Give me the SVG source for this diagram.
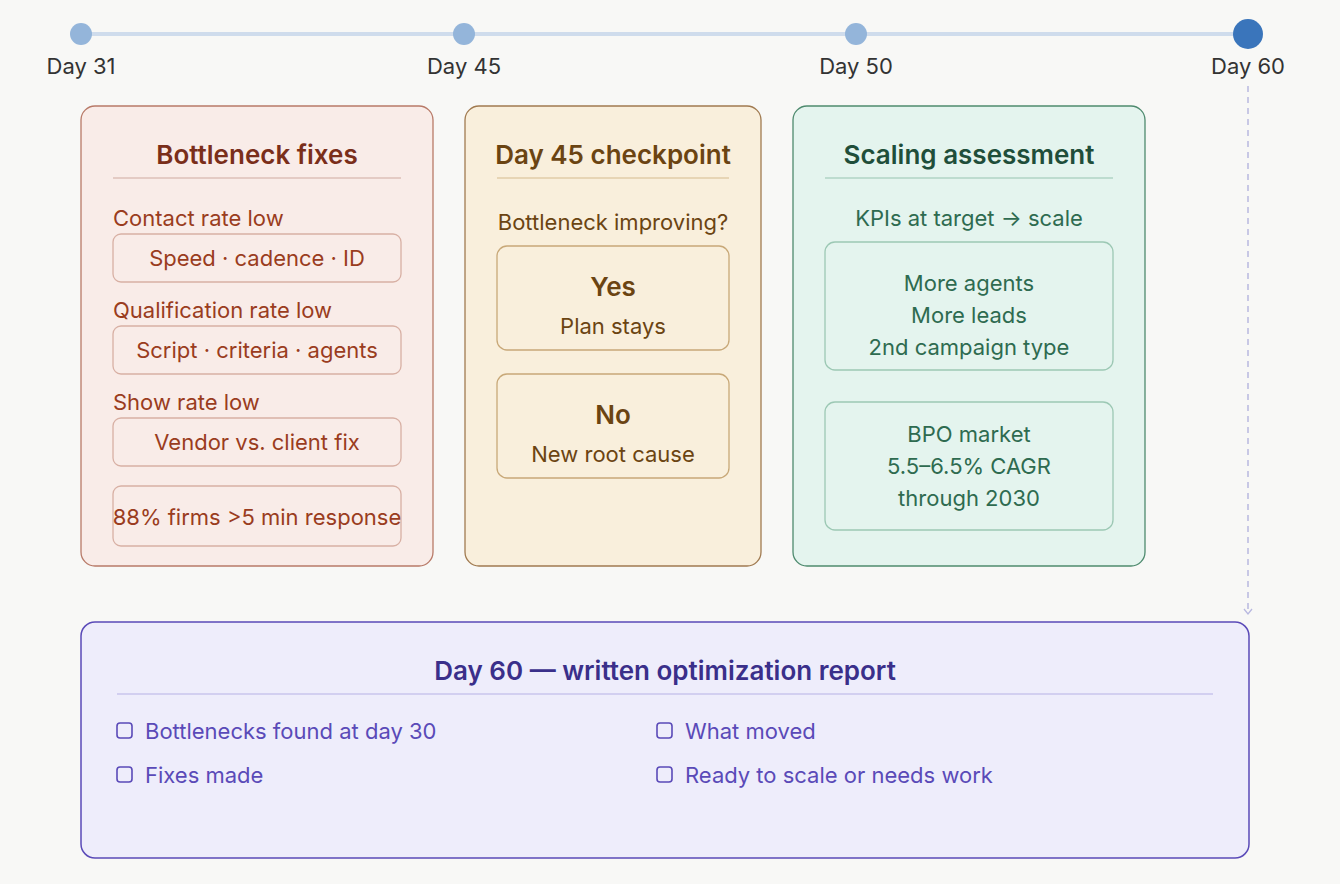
<svg xmlns="http://www.w3.org/2000/svg" width="1340" height="884" viewBox="0 0 1340 884">
<style>
text{font-family:Inter,"Noto Sans","Liberation Sans",sans-serif;font-size:22px}
.c{text-anchor:middle}
.t{font-size:26px;font-weight:600}
.lab{fill:#333}
.r{fill:#9a3c20}.y{fill:#6b4412}.g{fill:#2e6b50}.p{fill:#5a4ab8}
.rb{fill:none;stroke:#d8b0a4;stroke-width:1.3}
.yb{fill:none;stroke:#c8a878;stroke-width:1.3}
.gb{fill:none;stroke:#9cc8b4;stroke-width:1.3}
.cb{fill:none;stroke:#5a4ab8;stroke-width:1.6}
</style>
<defs><marker id="ah" viewBox="0 0 10 10" refX="8" refY="5" markerWidth="10" markerHeight="10" orient="auto" markerUnits="userSpaceOnUse"><path d="M3 1 L8 5 L3 9" fill="none" stroke="#b8b8e0" stroke-width="1.3"/></marker></defs>
<rect width="1340" height="884" fill="#f8f8f6"/>
<g id="timeline">
<line x1="81" y1="34" x2="1248" y2="34" stroke="#cfdcec" stroke-width="4"/>
<circle cx="81" cy="34" r="11" fill="#94b5da"/>
<circle cx="464" cy="34" r="11" fill="#94b5da"/>
<circle cx="856" cy="34" r="11" fill="#94b5da"/>
<circle cx="1248" cy="34" r="15" fill="#3a75bb"/>
<text class="c lab" x="81" y="74">Day 31</text>
<text class="c lab" x="464" y="74">Day 45</text>
<text class="c lab" x="856" y="74">Day 50</text>
<text class="c lab" x="1248" y="74">Day 60</text>
</g>
<g id="connectors">
<line x1="1248" y1="86" x2="1248" y2="614" stroke="#b8b8e0" stroke-width="1.5" stroke-dasharray="6 5" marker-end="url(#ah)"/>
</g>
<g id="bottleneck">
<rect x="81" y="106" width="352" height="460" rx="14" fill="#f9ece8" stroke="#b87a68" stroke-width="1.3"/>
<text class="c t" x="257" y="164" fill="#7a2e1a">Bottleneck fixes</text>
<line x1="113" y1="178" x2="401" y2="178" stroke="#dcc0b8" stroke-width="1.3"/>
<text class="r" x="113" y="226">Contact rate low</text>
<rect class="rb" x="113" y="234" width="288" height="48" rx="8"/>
<text class="c r" x="257" y="266">Speed · cadence · ID</text>
<text class="r" x="113" y="318">Qualification rate low</text>
<rect class="rb" x="113" y="326" width="288" height="48" rx="8"/>
<text class="c r" x="257" y="358">Script · criteria · agents</text>
<text class="r" x="113" y="410">Show rate low</text>
<rect class="rb" x="113" y="418" width="288" height="48" rx="8"/>
<text class="c r" x="257" y="450">Vendor vs. client fix</text>
<rect class="rb" x="113" y="486" width="288" height="60" rx="8"/>
<text class="c r" x="257" y="525">88% firms &gt;5 min response</text>
</g>
<g id="checkpoint">
<rect x="465" y="106" width="296" height="460" rx="14" fill="#f9efdc" stroke="#a07a50" stroke-width="1.3"/>
<text class="c t" x="613" y="164" fill="#6b4412">Day 45 checkpoint</text>
<line x1="497" y1="178" x2="729" y2="178" stroke="#e0cca8" stroke-width="1.3"/>
<text class="c y" x="613" y="230">Bottleneck improving?</text>
<rect class="yb" x="497" y="246" width="232" height="104" rx="10"/>
<text class="c t y" x="613" y="296">Yes</text>
<text class="c y" x="613" y="334">Plan stays</text>
<rect class="yb" x="497" y="374" width="232" height="104" rx="10"/>
<text class="c t y" x="613" y="424">No</text>
<text class="c y" x="613" y="462">New root cause</text>
</g>
<g id="scaling">
<rect x="793" y="106" width="352" height="460" rx="14" fill="#e4f4ee" stroke="#4e8a6e" stroke-width="1.3"/>
<text class="c t" x="969" y="164" fill="#1f4e3a">Scaling assessment</text>
<line x1="825" y1="178" x2="1113" y2="178" stroke="#b0d4c4" stroke-width="1.3"/>
<text class="c g" x="969" y="226">KPIs at target → scale</text>
<rect class="gb" x="825" y="242" width="288" height="128" rx="10"/>
<text class="c g" x="969" y="291">More agents</text>
<text class="c g" x="969" y="323">More leads</text>
<text class="c g" x="969" y="355">2nd campaign type</text>
<rect class="gb" x="825" y="402" width="288" height="128" rx="10"/>
<text class="c g" x="969" y="442">BPO market</text>
<text class="c g" x="969" y="474">5.5–6.5% CAGR</text>
<text class="c g" x="969" y="506">through 2030</text>
</g>
<g id="report">
<rect x="81" y="622" width="1168" height="236" rx="14" fill="#eeedfb" stroke="#5a4ab8" stroke-width="1.5"/>
<text class="c t" x="665" y="680" fill="#3a2f8a">Day 60 — written optimization report</text>
<line x1="117" y1="694" x2="1213" y2="694" stroke="#c8c4ec" stroke-width="1.3"/>
<rect class="cb" x="117" y="723" width="15" height="15" rx="3"/>
<text class="p" x="145" y="739">Bottlenecks found at day 30</text>
<rect class="cb" x="117" y="767" width="15" height="15" rx="3"/>
<text class="p" x="145" y="783">Fixes made</text>
<rect class="cb" x="657" y="723" width="15" height="15" rx="3"/>
<text class="p" x="685" y="739">What moved</text>
<rect class="cb" x="657" y="767" width="15" height="15" rx="3"/>
<text class="p" x="685" y="783">Ready to scale or needs work</text>
</g>
</svg>
